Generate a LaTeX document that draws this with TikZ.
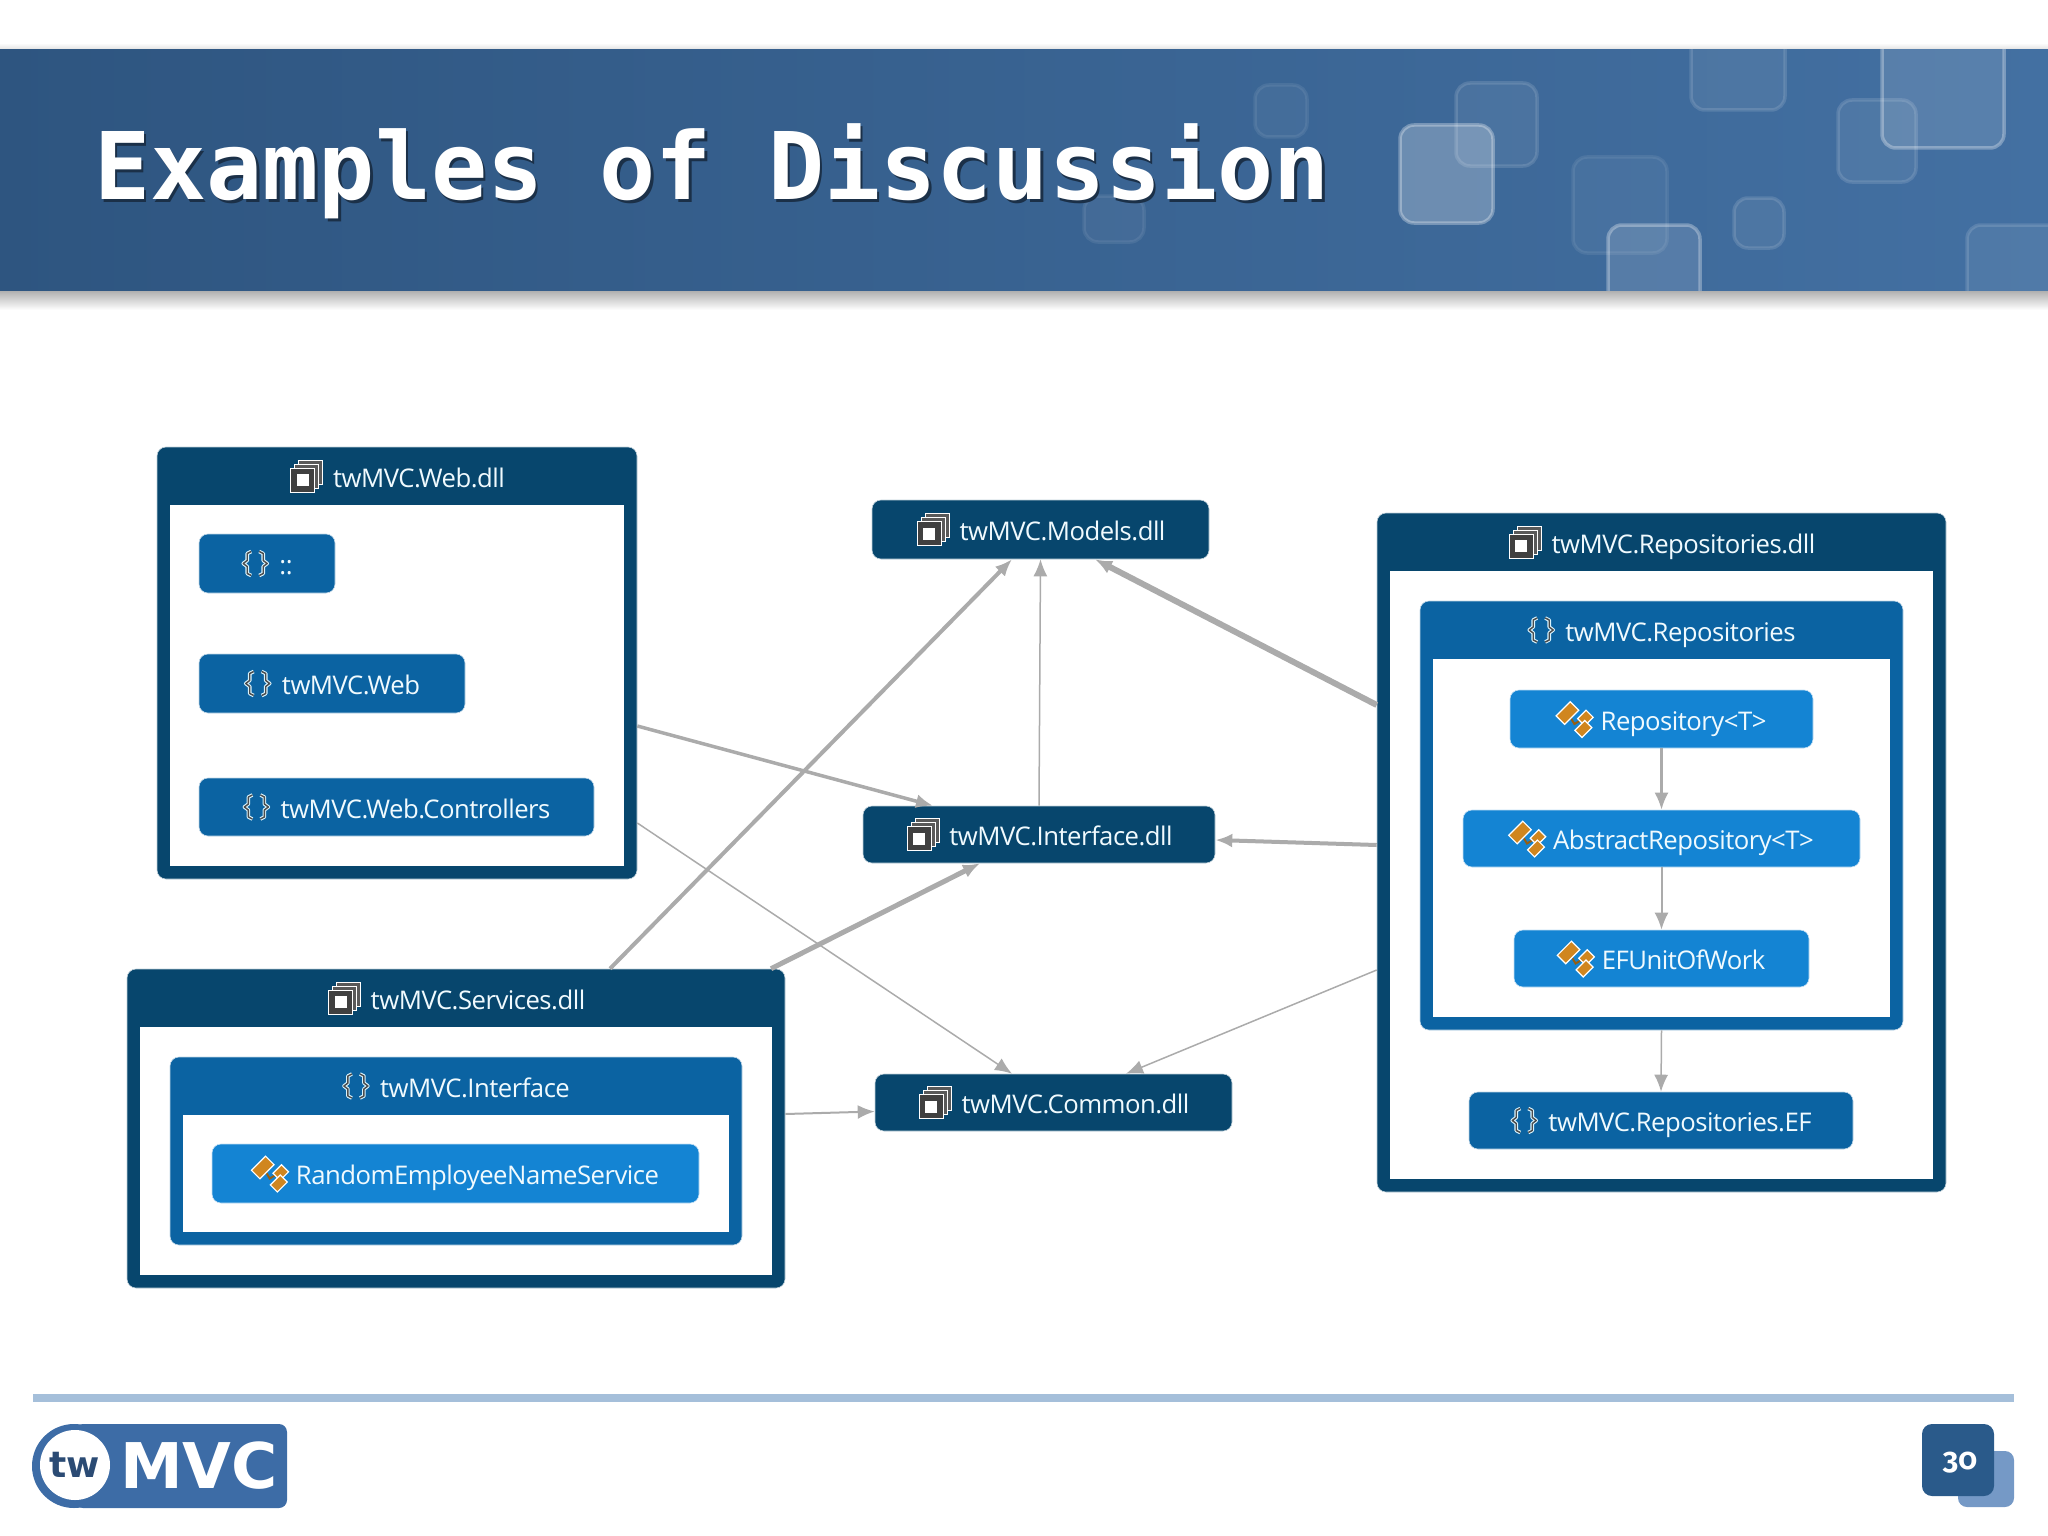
\documentclass[tikz,border=0pt]{standalone}
\usepackage{fontspec}
\setmainfont{Open Sans}[LetterSpace=-2]
\newfontfamily\titlefont{DejaVu Sans Mono}
\newfontfamily\logofont{DejaVu Sans}
\newfontfamily\pagefont{Fira Sans}[Numbers=OldStyle]
\usetikzlibrary{arrows.meta,calc}
\definecolor{dllblue}{HTML}{07466D}
\definecolor{nsblue}{HTML}{0B63A2}
\definecolor{classblue}{HTML}{1484D3}
\definecolor{depgray}{HTML}{ABABAB}
\definecolor{logoblue}{HTML}{3D6CA6}
\definecolor{ruleblue}{HTML}{A5BFDA}
\definecolor{pageblue}{HTML}{2A5A8A}
\definecolor{pagelight}{HTML}{7599C6}
\definecolor{classorange}{HTML}{D0861F}
\definecolor{titleshade}{HTML}{1B3048}
\newcommand{\dllshift}{22}
\newcommand{\nsshift}{19}
\newcommand{\classshift}{22}
\tikzset{
  box/.style={rounded corners=9pt,inner sep=0pt,draw=white!75!#1,line width=0.6pt,fill=#1},
  boxtext/.style={text=white!94!cyan,inner sep=0pt,font=\fontsize{25.7}{30}\selectfont,text height=19pt,text depth=6pt},
  dep/.style={draw=depgray,->},
  square/.style={draw=white,draw opacity=0.13,fill=white,fill opacity=0.07,line width=3.5pt,rounded corners=14pt},
  dllicon/.pic={
    \foreach \d in {8,4} {
      \draw[white,fill=gray!70!black,line width=1pt] (-16+\d,-8-\d) rectangle (8+\d,16-\d);
    }
    \draw[white,fill=black!75,line width=1pt] (-16,-8) rectangle (8,16);
    \fill[white] (-10,-2) rectangle (2,10);
  },
  nsicon/.pic={
    \foreach \s in {-1,1} {
      \draw[white!85!cyan,line width=3.6pt,line join=round] (\s*4+2,-12) -- (\s*8+2,-10) -- (\s*8+2,-3) -- (\s*12+2,0) -- (\s*8+2,3) -- (\s*8+2,10) -- (\s*4+2,12);
      \draw[black!70,line width=1.4pt,line join=round] (\s*4+2,-12) -- (\s*8+2,-10) -- (\s*8+2,-3) -- (\s*12+2,0) -- (\s*8+2,3) -- (\s*8+2,10) -- (\s*4+2,12);
    }
  },
  classicon/.pic={
    \draw[classorange!70!black,line width=2pt] (-6,-5) -- (0,5) -- (10,-1);
    \foreach \a/\b/\w/\h in {-7/-6/10/6,11/-1/6/5,9/10/7/5} {
      \draw[white,fill=classorange,line width=1.2pt,shift={(\a,\b)},rotate=45] (-\w,-\h) rectangle (\w,\h);
    }
  }
}
\newcommand{\drawBox}[8]{% color, name, x0, y0, x1, y1, icon, text
  \node[box=#1,minimum width={(#5-#3)*1pt},minimum height={(#6-#4)*1pt}] (#2) at ({(#3+#5)/2},{(#4+#6)/2}) {};
  \node[boxtext] (#2-txt) at ({(#3+#5)/2+\csname #7shift\endcsname},{(#4+#6)/2+4.5}) {#8};
  \pic at ($(#2-txt.west)+(-26,-4.5)$) {#7icon};
}
\newcommand{\drawGroup}[8]{% color, name, x0, y0, x1, y1, icon, text
  \node[box=#1,minimum width={(#5-#3)*1pt},minimum height={(#6-#4)*1pt}] (#2) at ({(#3+#5)/2},{(#4+#6)/2}) {};
  \node[boxtext] (#2-txt) at ({(#3+#5)/2+\csname #7shift\endcsname},#4+33.5) {#8};
  \pic at ($(#2-txt.west)+(-26,-4.5)$) {#7icon};
  \fill[white] (#3+13,#4+58) rectangle (#5-13,#6-13);
}
\begin{document}
\begin{tikzpicture}[x=1pt,y=-1pt,>={Latex[length=17pt,width=14pt]}]
\useasboundingbox (0,0) rectangle (2048,1536);

% banner
\shade[top color=white,bottom color=gray!25] (0,43) rectangle (2048,50);
\shade[top color=gray!65,bottom color=white] (0,290) rectangle (2048,310);
\begin{scope}
\clip (0,50) rectangle (2048,290);
\shade[left color={rgb,255:red,46;green,85;blue,128},middle color={rgb,255:red,58;green,100;blue,147},right color={rgb,255:red,67;green,112;blue,162}] (0,50) rectangle (2048,290);
\foreach \xa/\ya/\xb/\yb in {1255/85/1307/137,1084/196/1144/242,1573/157/1667/253} {
  \draw[square,draw opacity=0.08,fill opacity=0.05] (\xa,\ya) rectangle (\xb,\yb);
}
\foreach \xa/\ya/\xb/\yb in {1456/83/1537/166,1691/30/1785/110,1838/100/1916/182,1734/198/1784/248,1967/225/2100/320} {
  \draw[square] (\xa,\ya) rectangle (\xb,\yb);
}
\foreach \xa/\ya/\xb/\yb in {1882/20/2004/148,1608/225/1700/320} {
  \draw[square,draw opacity=0.3,fill opacity=0.12] (\xa,\ya) rectangle (\xb,\yb);
}
\draw[square,fill opacity=0.25,draw opacity=0.3] (1400,125) rectangle (1493,223);
\end{scope}
\node[anchor=base west,inner sep=0pt,text=titleshade,font=\titlefont\bfseries\fontsize{93.3}{100}\selectfont] (titleshadow) at (96.5,202) {Examples of Discussion};
\node[anchor=base west,inner sep=0pt,text=white,font=\titlefont\bfseries\fontsize{93.3}{100}\selectfont] (title) at (94,199.5) {Examples of Discussion};

% twMVC.Web.dll
\drawGroup{dllblue}{web}{157}{447}{637}{879}{dll}{twMVC.Web.dll}
\drawBox{nsblue}{nsroot}{199}{534}{335}{593}{ns}{::}
\drawBox{nsblue}{nsweb}{199}{654}{465}{713}{ns}{twMVC.Web}
\drawBox{nsblue}{nsctrl}{199}{778}{594}{836}{ns}{twMVC.Web.Controllers}

% twMVC.Services.dll
\drawGroup{dllblue}{svc}{127}{969}{785}{1288}{dll}{twMVC.Services.dll}
\drawGroup{nsblue}{nsifc}{170}{1057}{742}{1245}{ns}{twMVC.Interface}
\drawBox{classblue}{randname}{212}{1144}{699}{1203}{class}{RandomEmployeeNameService}

% middle column
\drawBox{dllblue}{models}{872}{500}{1209}{559}{dll}{twMVC.Models.dll}
\drawBox{dllblue}{ifc}{863}{806}{1215}{863}{dll}{twMVC.Interface.dll}
\drawBox{dllblue}{com}{875}{1074}{1232}{1131}{dll}{twMVC.Common.dll}

% twMVC.Repositories.dll
\drawGroup{dllblue}{repo}{1377}{513}{1946}{1192}{dll}{twMVC.Repositories.dll}
\drawGroup{nsblue}{nsrepo}{1420}{601}{1903}{1030}{ns}{twMVC.Repositories}
\drawBox{classblue}{repot}{1510}{690}{1813}{748}{class}{Repository<T>}
\drawBox{classblue}{abst}{1463}{810}{1860}{867}{class}{AbstractRepository<T>}
\drawBox{classblue}{efwork}{1514}{930}{1809}{987}{class}{EFUnitOfWork}
\drawBox{nsblue}{nsef}{1469}{1092}{1853}{1149}{ns}{twMVC.Repositories.EF}

% dependencies
\draw[dep,line width=3.5pt] ([yshift=-63pt]web.east) to ([xshift=-106pt]ifc.north);
\draw[dep,line width=1.5pt] ([yshift=-160pt]web.east) to ([xshift=-41.5pt]com.north);
\draw[dep,line width=4pt] ([xshift=154pt]svc.north) to ([xshift=-28.5pt]models.south);
\draw[dep,line width=5pt] ([xshift=315pt]svc.north) to ([xshift=-59pt]ifc.south);
\draw[dep,line width=2pt] ([yshift=14.5pt]svc.east) to ([yshift=-9pt]com.west);
\draw[dep,line width=1.5pt] (ifc.north) to (models.south);
\draw[dep,line width=6pt] ([yshift=147.5pt]repo.west) to ([xshift=54.5pt]models.south);
\draw[dep,line width=4pt] ([yshift=7.5pt]repo.west) to ([yshift=-5.5pt]ifc.east);
\draw[dep,line width=1.5pt] ([yshift=-117.5pt]repo.west) to ([xshift=72.5pt]com.north);
\draw[dep,line width=2.5pt] (repot.south) to (abst.north);
\draw[dep,line width=2pt] (abst.south) to (efwork.north);
\draw[dep,line width=1.5pt] (nsrepo.south) to (nsef.north);

% footer
\fill[ruleblue] (33,1394) rectangle (2014,1402);
\fill[logoblue,rounded corners=8pt] (75,1424) rectangle (287,1508);
\fill[logoblue] (74,1466) circle[radius=42];
\node[circle,fill=white,minimum size=70pt,inner sep=0pt] (logocirc) at (75,1465) {};
\node[inner sep=0pt,text=logoblue!70!black,font=\logofont\bfseries\fontsize{36}{40}\selectfont] (logotw) at (logocirc) {tw};
\node[anchor=base west,inner sep=0pt,text=white,font=\logofont\bfseries\fontsize{63}{66}\selectfont] (logomvc) at (120,1488) {MVC};
\fill[pagelight,rounded corners=9pt] (1958,1451) rectangle (2014,1507);
\fill[pageblue,rounded corners=10pt] (1922,1424) rectangle (1994,1496);
\node[inner sep=0pt,text=white,font=\pagefont\bfseries\fontsize{30}{34}\selectfont] (pagenum) at (1960,1463) {30};
\end{tikzpicture}
\end{document}
